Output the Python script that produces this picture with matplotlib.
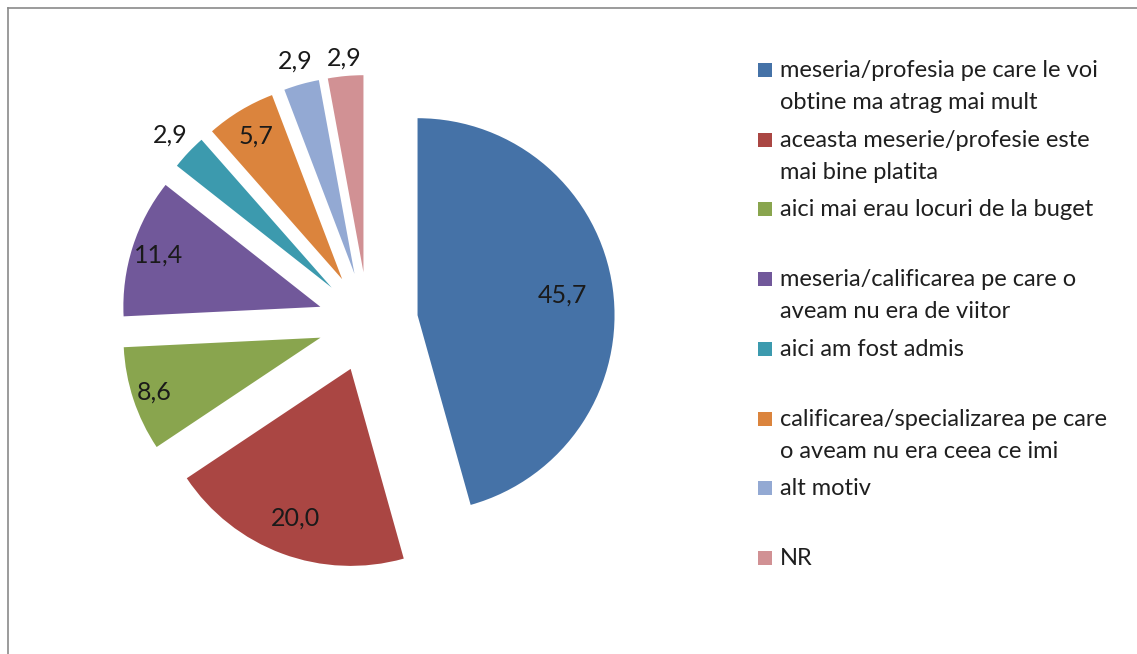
import matplotlib
matplotlib.use('Agg')
import matplotlib.pyplot as plt
import numpy as np
from matplotlib.patches import Rectangle
from matplotlib.lines import Line2D

plt.rcParams['font.family'] = ['Lato', 'DejaVu Sans']

# ---- data ----
categories = [
    "meseria/profesia pe care le voi\nobtine ma atrag mai mult",
    "aceasta meserie/profesie este\nmai bine platita",
    "aici mai erau locuri de la buget",
    "meseria/calificarea pe care o\naveam nu era de viitor",
    "aici am fost admis",
    "calificarea/specializarea pe care\no aveam nu era ceea ce imi",
    "alt motiv",
    "NR",
]
values = [45.7, 20.0, 8.6, 11.4, 2.9, 5.7, 2.9, 2.9]
value_labels = ["45,7", "20,0", "8,6", "11,4", "2,9", "5,7", "2,9", "2,9"]
colors = ["#4572A7", "#AA4643", "#89A54E", "#71589A",
          "#3C9AAE", "#DB843D", "#93A9D3", "#D19194"]

# ---- layout ----
W, H = 1137, 654
R = 197.0          # pie radius in px
CX, CY = 368, 322  # pie centre in px (from top-left)
label_dist = [0.74, 0.81, 0.89, 0.86, 1.13, 0.85, 1.12, 1.09]

fig = plt.figure(figsize=(W / 100, H / 100), dpi=100)
fig.patch.set_facecolor('white')
ax = fig.add_axes([0, 0, 1, 1])

wedges, _ = ax.pie(values, explode=[50 / R] * len(values), colors=colors,
                   startangle=90, counterclock=False, radius=1,
                   wedgeprops=dict(linewidth=0))
ax.set_aspect('auto')
ax.set_xlim(-CX / R, (W - CX) / R)
ax.set_ylim(-(H - CY) / R, CY / R)
ax.axis('off')

for w, lab, d in zip(wedges, value_labels, label_dist):
    th = np.deg2rad((w.theta1 + w.theta2) / 2)
    x = w.center[0] + d * np.cos(th)
    y = w.center[1] + d * np.sin(th)
    ax.text(x, y, lab, ha='center', va='center', fontsize=18,
            color='#1a1a1a')

# ---- legend ----
def fx(px):
    return px / W

def fy(py):
    return 1 - py / H

for i, (cat, col) in enumerate(zip(categories, colors)):
    base = 77 + 69.7 * i
    fig.add_artist(Rectangle((fx(758), fy(base)), 14 / W, 14 / H,
                             transform=fig.transFigure, color=col, lw=0))
    for k, line in enumerate(cat.split("\n")):
        fig.text(fx(780), fy(base + 32 * k), line, ha='left', va='baseline',
                 fontsize=17, color='#1f1f1f')

# ---- chart border (top and left visible) ----
fig.add_artist(Line2D([fx(8), 1], [fy(8), fy(8)], transform=fig.transFigure,
                      color='#8a8a8a', lw=1.2))
fig.add_artist(Line2D([fx(8), fx(8)], [fy(8), 0], transform=fig.transFigure,
                      color='#8a8a8a', lw=1.2))

fig.savefig('out.png', dpi=100, facecolor='white')
